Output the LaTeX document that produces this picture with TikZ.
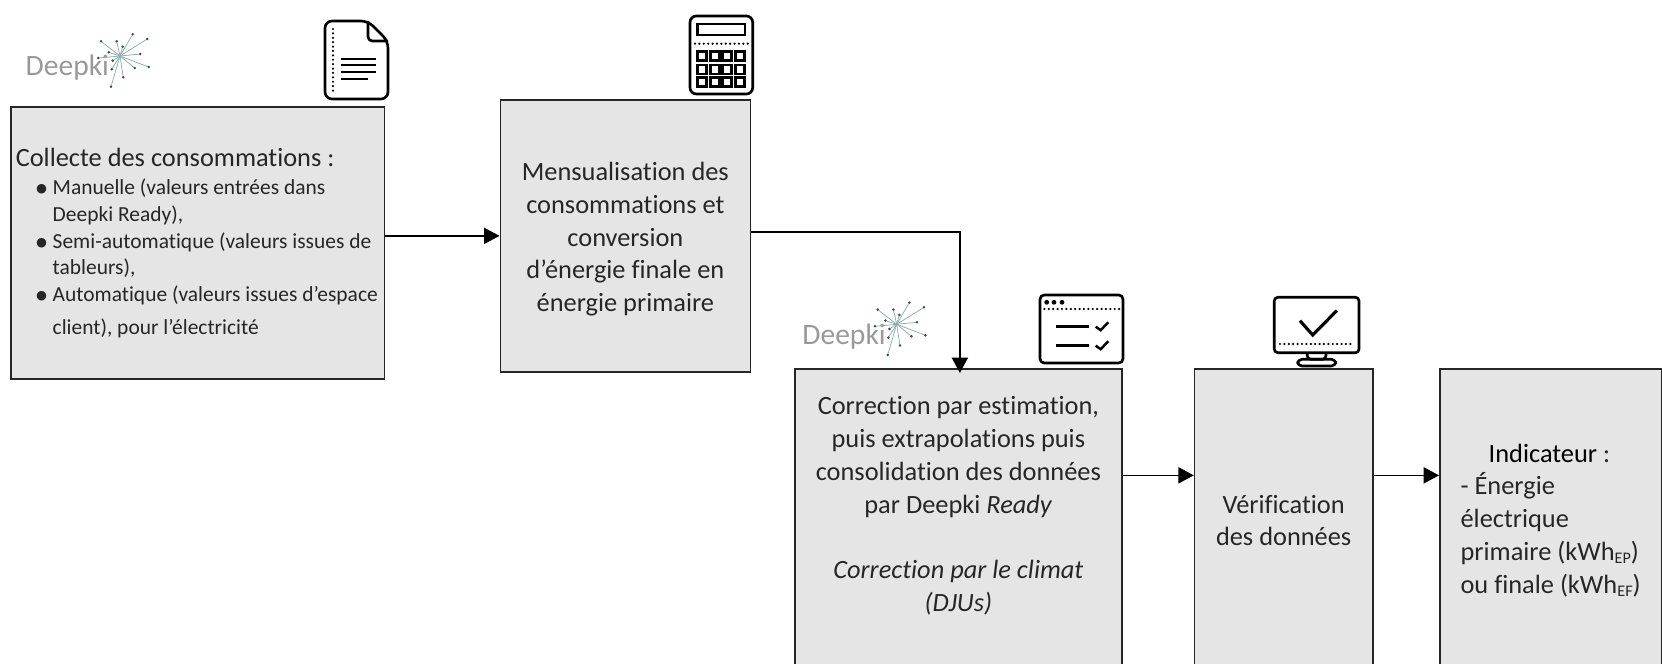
\documentclass[tikz,border=0pt]{standalone}
\usepackage{fontspec}
\setmainfont{Carlito}[Ligatures=NoCommon]
\usepackage{tikz}
\usetikzlibrary{positioning}
\usetikzlibrary{arrows.meta}
\definecolor{boxgray}{HTML}{E5E5E5}
\definecolor{logogray}{HTML}{999999}
\definecolor{logoteal}{HTML}{8DB0AC}
\definecolor{logodot}{HTML}{3C4A4A}
\tikzstyle{arrow} = [line width=0.45pt,-{Triangle[length=4.4pt,width=4.6pt]}]
\tikzstyle{etape} = [draw=black!85,line width=0.45pt,fill=boxgray,inner sep=0pt,align=center,text=black!85,font=\fontsize{7.5}{9.3}\selectfont]
\tikzstyle{icon} = [line width=0.75pt,rounded corners=1pt,line join=round]
\tikzstyle{pointille} = [line width=0.7pt,line cap=round,dash pattern=on 0pt off 1.25pt]
\newcommand{\petit}{\fontsize{6.1}{7.57}\selectfont}
\newcommand{\puce}{\hspace*{5.4pt}\makebox[5.1pt][l]{$\bullet$}}
\newcommand{\suite}{\hspace*{10.5pt}}
\newcommand{\sousind}[1]{\raisebox{-1pt}{\fontsize{4.6}{5}\selectfont #1}}
\tikzset{
  deepki/.pic={
    \node (word) [anchor=west,inner sep=0pt,text=logogray,font=\fontsize{8.4}{10}\selectfont] at (-95,12) {Deepki};
    \foreach \dx/\dy in {12.7/-21.7,27.3/-17,-3.3/-14.7,-19/-14.7,2.7/-9.3,-11.3/-3.7,-21.7/2,-7.3/4.7,-8.3/13.3,-9/30.7,3.3/21.3,14.7/12,28.7/11,20.3/-2}{
      \draw[logoteal,line width=0.22pt] (0,0) -- (\dx,\dy);
      \fill[logodot] (\dx,\dy) circle (1.4);
    }
  }
}

\begin{document}
\begin{tikzpicture}[x=0.01cm,y=-0.01cm]
	\useasboundingbox (0,0) rectangle (1662,664);
	\clip (0,0) rectangle (1662,664);

	%Boxes
	\node (collecte) [etape,anchor=north west,minimum width=3.73cm,minimum height=2.72cm,text width=3.64cm,align=flush left] at (10.5,106) {Collecte des consommations :\\[0.5pt]
		\petit\puce Manuelle (valeurs entrées dans\\
		\suite Deepki Ready),\\
		\puce Semi-automatique (valeurs issues de\\
		\suite tableurs),\\
		\puce Automatique (valeurs issues d’espace\\
		\suite client), pour l’électricité};
	\node (mensuel) [etape,anchor=north west,minimum width=2.5cm,minimum height=2.72cm] at (499.5,99) {\rule{0pt}{7.2pt}Mensualisation des\\consommations et\\conversion\\d’énergie finale en\\énergie primaire};
	\node (correction) [etape,anchor=north west,minimum width=3.27cm,minimum height=3.03cm] at (794,368) {Correction par estimation,\\puis extrapolations puis\\consolidation des données\\par Deepki \textit{Ready}\\~\\\textit{Correction par le climat}\\\textit{(DJUs)}\\~};
	\node (verif) [etape,minimum width=1.78cm,minimum height=3.03cm,right=0.71cm of correction] {Vérification\\des données};
	\node (indicateur) [etape,minimum width=2.215cm,minimum height=3.03cm,right=0.655cm of verif,align=flush left] {\hspace*{8pt}{\color{black}Indicateur} :\\- Énergie\\électrique\\primaire (kWh\sousind{EP})\\ou finale (kWh\sousind{EF})};

	%Arrows
	\draw[arrow] (collecte.east |- mensuel.west) -- (mensuel.west);
	\draw[arrow] ([yshift=0.04cm]mensuel.east) -| ([xshift=0.015cm,yshift=-0.05cm]correction.north);
	\draw[arrow] ([yshift=0.45cm]correction.east) -- ([yshift=0.45cm]verif.west);
	\draw[arrow] ([yshift=0.45cm]verif.east) -- ([yshift=0.45cm]indicateur.west);

	%Logos
	\pic (logoa) at (120,56) {deepki};
	\pic (logob) at (896.7,324.3) {deepki};

	%Document
	\draw[icon,rounded corners=2pt] (368,21) -- (325,21) -- (325,99) -- (388,99) -- (388,41) -- cycle;
	\draw[icon,rounded corners=1.2pt] (368,21) -- (368,41) -- (388,41);
	\draw[pointille] (333,29) -- (333,93);
	\foreach \yy/\xx in {58.7/376,65.3/376,72/376,78.7/368}
		\draw[line width=0.6pt] (341,\yy) -- (\xx,\yy);

	%Calculator
	\draw[icon,rounded corners=1.8pt] (690,16) rectangle (752.7,94);
	\draw[line width=0.8pt] (697.7,24) rectangle (745,35);
	\draw[pointille] (695,43.7) -- (748,43.7);
	\foreach \yy in {51.7,65,77.7}
		\foreach \xx in {697.7,710.2,722.7,735.2}
			\draw[line width=0.75pt] (\xx,\yy) rectangle ++(9,9);

	%Window
	\draw[icon,rounded corners=1.2pt] (1040,295) rectangle (1123,363);
	\foreach \xx in {1046.7,1054,1062}
		\fill (\xx,302.3) circle (2.4);
	\draw[pointille] (1040,309) -- (1123,309);
	\foreach \yy in {326.7,345.7}{
		\draw[line width=0.7pt] (1056,\yy) -- (1089,\yy);
		\draw[line width=0.7pt] (1095.7,\yy) -- ++(5,3.5) -- ++(7.6,-8);
	}

	%Screen
	\draw[icon] (1274.3,297.3) rectangle (1359,352.7);
	\draw[line width=0.9pt] (1300,320.7) -- (1312.7,335) -- (1336.7,310.7);
	\draw[pointille] (1280,344) -- (1353,344);
	\draw[icon] (1307.3,352.7) -- (1307.3,359.3) -- (1326,359.3) -- (1326,352.7);
	\draw[icon,rounded corners=1.2pt] (1297.7,366) -- (1297.7,359.3) -- (1335.7,359.3) -- (1335.7,366) -- cycle;
\end{tikzpicture}
\end{document}
